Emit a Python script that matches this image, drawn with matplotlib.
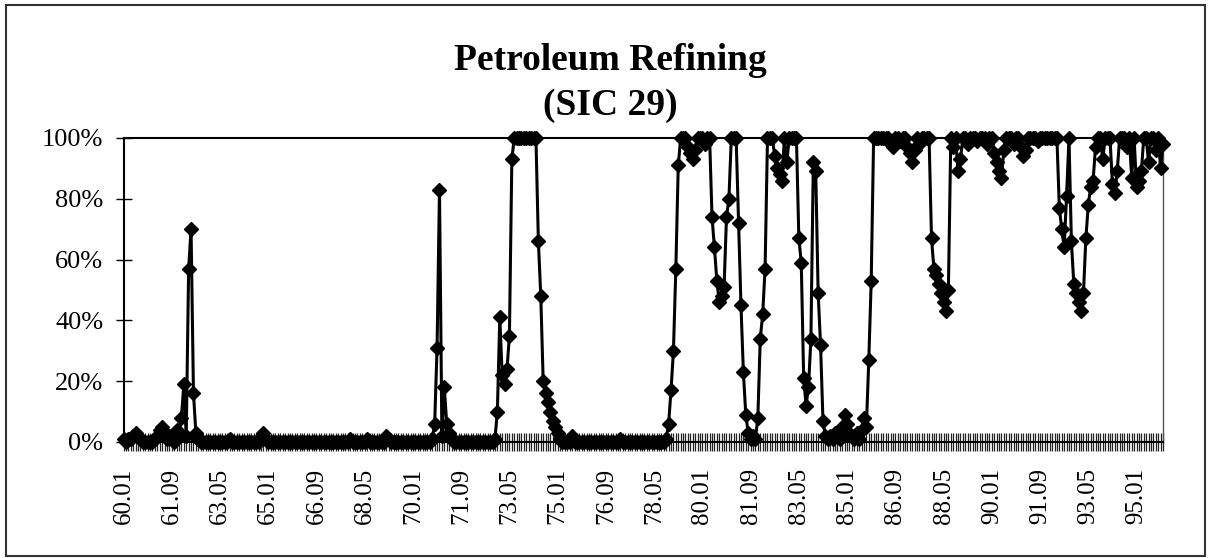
import numpy as np
import matplotlib
matplotlib.use("Agg")
import matplotlib.pyplot as plt
from matplotlib.patches import Rectangle

plt.rcParams['font.family'] = ['Liberation Serif', 'DejaVu Serif']

# monthly share (%), one row per year, 1960 .. 1995
values_by_year = [
    [1, 0, 1, 1, 2, 3, 2, 1, 0, 0, 0, 0],                        # 60
    [0, 1, 2, 4, 5, 3, 1, 2, 1, 0, 4, 2],                        # 61
    [8, 19, 2, 57, 70, 16, 3, 1, 0, 0, 0, 0],                    # 62
    [0, 0, 0, 0, 0, 0, 0, 0, 1, 0, 0, 0],                        # 63
    [0, 0, 0, 0, 0, 0, 0, 0, 0, 1, 3, 1],                        # 64
    [0, 0, 0, 0, 0, 0, 0, 0, 0, 0, 0, 0],                        # 65
    [0, 0, 0, 0, 0, 0, 0, 0, 0, 0, 0, 0],                        # 66
    [0, 0, 0, 0, 0, 0, 0, 0, 0, 0, 1, 0],                        # 67
    [0, 0, 0, 0, 0, 1, 0, 0, 0, 0, 0, 0],                        # 68
    [0, 2, 1, 0, 0, 0, 0, 0, 0, 0, 0, 0],                        # 69
    [0, 0, 0, 0, 0, 0, 0, 0, 1, 6, 31, 83],                      # 70
    [2, 18, 6, 3, 1, 0, 0, 0, 0, 0, 0, 0],                       # 71
    [0, 0, 0, 0, 0, 0, 0, 0, 0, 0, 1, 10],                       # 72
    [41, 22, 19, 24, 35, 93, 100, 100, 100, 100, 100, 100],      # 73
    [100, 100, 100, 100, 66, 48, 20, 16, 13, 10, 7, 5],          # 74
    [3, 1, 0, 0, 0, 0, 2, 0, 0, 0, 0, 0],                        # 75
    [0, 0, 0, 0, 0, 0, 0, 0, 0, 0, 0, 0],                        # 76
    [0, 0, 1, 0, 0, 0, 0, 0, 0, 0, 0, 0],                        # 77
    [0, 0, 0, 0, 0, 0, 0, 0, 0, 1, 6, 17],                       # 78
    [30, 57, 91, 100, 100, 100, 97, 95, 93, 96, 100, 100],       # 79
    [100, 98, 100, 100, 74, 64, 53, 46, 48, 51, 74, 80],         # 80
    [100, 100, 100, 72, 45, 23, 9, 3, 1, 2, 1, 8],               # 81
    [34, 42, 57, 100, 100, 100, 94, 90, 88, 86, 100, 92],        # 82
    [100, 100, 100, 100, 67, 59, 21, 12, 18, 34, 92, 89],        # 83
    [49, 32, 7, 2, 1, 2, 1, 3, 2, 1, 5, 9],                      # 84
    [6, 3, 2, 1, 3, 1, 4, 8, 5, 27, 53, 100],                    # 85
    [100, 100, 100, 100, 100, 100, 98, 97, 100, 100, 99, 100],   # 86
    [100, 97, 95, 92, 96, 100, 98, 100, 100, 100, 100, 67],      # 87
    [57, 55, 52, 49, 46, 43, 50, 100, 97, 100, 89, 93],          # 88
    [100, 100, 98, 100, 100, 100, 99, 100, 100, 100, 98, 100],   # 89
    [100, 95, 92, 89, 87, 96, 100, 100, 100, 98, 100, 100],      # 90
    [97, 94, 96, 100, 100, 100, 100, 99, 100, 100, 100, 100],    # 91
    [100, 100, 100, 100, 77, 70, 64, 81, 100, 66, 52, 49],       # 92
    [46, 43, 49, 67, 78, 84, 86, 97, 100, 100, 93, 100],         # 93
    [100, 100, 85, 82, 89, 100, 100, 100, 97, 100, 87, 100],     # 94
    [84, 86, 89, 100, 100, 92, 100, 100, 96, 100, 90, 98],       # 95
]

tick_labels = ["60.01", "61.09", "63.05", "65.01", "66.09", "68.05",
               "70.01", "71.09", "73.05", "75.01", "76.09", "78.05",
               "80.01", "81.09", "83.05", "85.01", "86.09", "88.05",
               "90.01", "91.09", "93.05", "95.01"]
label_step = 20  # one label every 20 months

y_ticks = [0, 20, 40, 60, 80, 100]
y_labels = ["0%", "20%", "40%", "60%", "80%", "100%"]


def main():
    values = [v for row in values_by_year for v in row]
    n = len(values)
    x = np.arange(n)

    fig = plt.figure(figsize=(12.11, 5.58), dpi=100)
    ax = fig.add_axes([0.102, 0.2079, 0.8584, 0.5448])

    ax.plot(x, values, color='black', lw=2.2, marker='D', ms=7,
            mfc='black', mec='black', mew=1, clip_on=False, zorder=3)

    ax.set_xlim(0, n - 1)
    ax.set_ylim(0, 100)

    ax.set_yticks(y_ticks)
    ax.set_yticklabels(y_labels, fontsize=19)
    ax.set_xticks(np.arange(0, len(tick_labels) * label_step, label_step))
    ax.set_xticklabels(tick_labels, rotation=90, fontsize=18)
    ax.set_xticks(x, minor=True)

    ax.tick_params(axis='y', direction='inout', length=11, width=1, pad=9)
    ax.tick_params(axis='x', which='both', direction='inout', length=13,
                   width=0.9, color='#222222', pad=12)

    for side in ['left', 'bottom', 'top']:
        ax.spines[side].set_linewidth(1.5)
    ax.spines['right'].set_linewidth(1)
    ax.spines['right'].set_color('#555555')

    fig.text(0.504, 0.8746, "Petroleum Refining", ha='center', va='baseline',
             fontsize=27, fontweight='bold')
    fig.text(0.504, 0.7939, "(SIC 29)", ha='center', va='baseline',
             fontsize=27, fontweight='bold')

    # frame around the whole chart
    fig.patches.append(Rectangle((0.005, 0.003), 0.99, 0.988, transform=fig.transFigure,
                                 fill=False, lw=1.5, edgecolor='#333333'))

    fig.savefig("out.png", dpi=100)


if __name__ == "__main__":
    main()
